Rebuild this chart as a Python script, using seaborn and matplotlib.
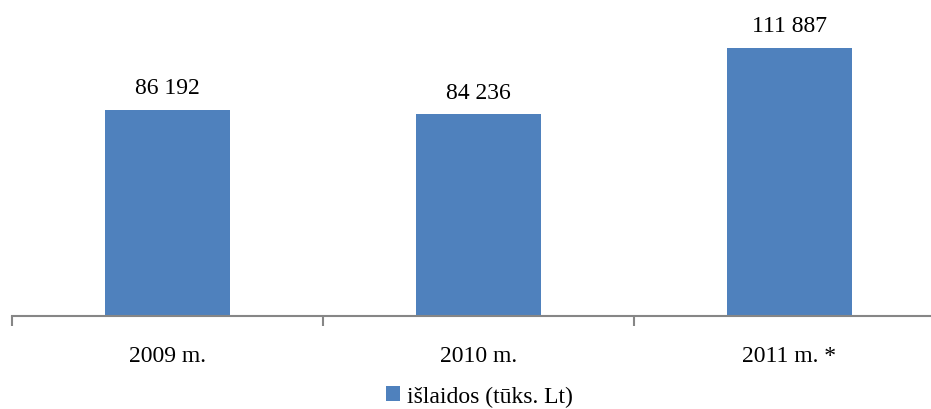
import matplotlib.pyplot as plt
import numpy as np
import pandas as pd
import seaborn as sns
from matplotlib.patches import Patch

years = ["2009 m.", "2010 m.", "2011 m. *"]
spending = [86192, 84236, 111887]
series_name = "išlaidos (tūks. Lt)"

bar_color = "#4F81BD"
axis_color = "#868686"

sns.set_style("white")
plt.rcParams["font.family"] = ["Liberation Serif", "DejaVu Serif"]
plt.rcParams["text.color"] = "black"
plt.rcParams["xtick.color"] = "black"

df = pd.DataFrame({"year": years, "value": spending})

fig = plt.figure(figsize=(9.31, 4.10), dpi=100)
ax = fig.add_axes([12 / 931, 93 / 410, 933 / 931, 311 / 410])

sns.barplot(data=df, x="year", y="value", color=bar_color, width=0.4,
            saturation=1, linewidth=0, ax=ax)

ax.set_xlim(-0.5, 2.5)
ax.set_ylim(0, 130000)

for i, v in enumerate(spending):
    label = "{:,}".format(v).replace(",", " ")
    ax.text(i, v + 5000, label, ha="center", va="bottom", fontsize=17)

for side in ["top", "right", "left"]:
    ax.spines[side].set_visible(False)
ax.spines["bottom"].set_color(axis_color)
ax.spines["bottom"].set_linewidth(1.5)

ax.set_yticks([])
ax.set_xlabel("")
ax.set_ylabel("")
ax.set_xticks(np.arange(-0.5, 3.0, 1.0), minor=True)
ax.tick_params(axis="x", which="both", bottom=True)
ax.tick_params(axis="x", which="major", length=0, labelsize=17, pad=21,
               labelcolor="black")
ax.tick_params(axis="x", which="minor", length=7, width=1.5, color=axis_color,
               direction="out")

handle = Patch(facecolor=bar_color, edgecolor="none")
fig.legend([handle], [series_name], loc="center", bbox_to_anchor=(0.515, 0.03),
           frameon=False, fontsize=17, handlelength=0.6, handleheight=0.6,
           handletextpad=0.3)

fig.savefig("out.png", dpi=100)
